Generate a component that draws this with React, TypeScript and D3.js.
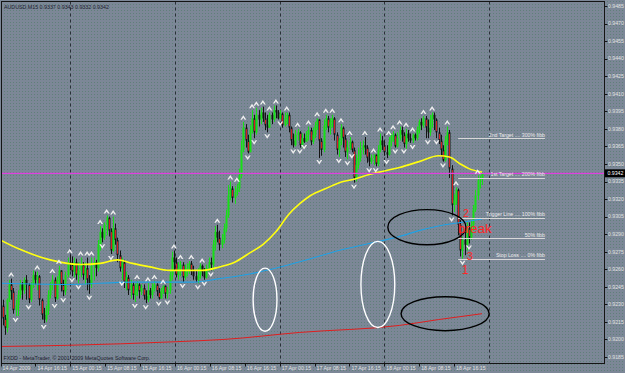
import React from "react";
import * as d3 from "d3";

// ---- price data (pips, i.e. price * 10000), 30-minute bars ----
const FIRST_OPEN = 9229;
const CLOSES = [
  9218, 9210, 9234, 9247, 9241, 9225, 9229, 9238, 9247, 9242,
  9251, 9247, 9234, 9247, 9255, 9251, 9254, 9234, 9221, 9217,
  9225, 9238, 9247, 9251, 9235, 9251, 9259, 9247, 9241, 9255,
  9266, 9264, 9258, 9266, 9255, 9259, 9264, 9255, 9261, 9251,
  9247, 9263, 9266, 9261, 9281, 9292, 9287, 9298, 9304, 9293,
  9276, 9295, 9285, 9272, 9261, 9266, 9249, 9253, 9242, 9247,
  9238, 9242, 9247, 9241, 9244, 9237, 9234, 9242, 9238, 9244,
  9247, 9241, 9235, 9242, 9246, 9239, 9242, 9255, 9270, 9266,
  9255, 9261, 9264, 9253, 9258, 9261, 9265, 9259, 9254, 9251,
  9255, 9263, 9258, 9253, 9261, 9266, 9264, 9281, 9292, 9287,
  9281, 9285, 9295, 9306, 9323, 9329, 9321, 9326, 9329, 9340,
  9362, 9381, 9370, 9360, 9379, 9389, 9377, 9392, 9388, 9394,
  9389, 9383, 9381, 9392, 9388, 9396, 9394, 9389, 9393, 9383,
  9389, 9392, 9381, 9370, 9366, 9375, 9377, 9366, 9372, 9369,
  9375, 9379, 9369, 9375, 9383, 9388, 9370, 9362, 9383, 9389,
  9381, 9386, 9389, 9375, 9362, 9370, 9381, 9372, 9360, 9364,
  9369, 9362, 9338, 9349, 9355, 9362, 9366, 9364, 9355, 9352,
  9355, 9358, 9350, 9362, 9370, 9366, 9360, 9358, 9369, 9374,
  9375, 9365, 9372, 9379, 9375, 9367, 9376, 9372, 9370, 9375,
  9372, 9379, 9386, 9383, 9389, 9381, 9377, 9388, 9392, 9388,
  9377, 9370, 9362, 9353, 9370, 9377, 9346, 9315, 9319, 9328,
  9298, 9276, 9285, 9281, 9295, 9287, 9298, 9311, 9323, 9336,
  9337, 9342,
];
const HIGHS = [
  9234, 9221, 9235, 9251, 9252, 9244, 9234, 9242, 9251, 9249,
  9253, 9255, 9248, 9249, 9259, 9258, 9258, 9255, 9235, 9227,
  9229, 9242, 9249, 9255, 9253, 9254, 9263, 9259, 9251, 9258,
  9270, 9272, 9271, 9270, 9269, 9266, 9270, 9266, 9266, 9270,
  9255, 9270, 9270, 9268, 9285, 9297, 9295, 9300, 9306, 9305,
  9295, 9305, 9299, 9287, 9276, 9270, 9268, 9258, 9255, 9251,
  9249, 9248, 9250, 9248, 9247, 9247, 9242, 9248, 9244, 9248,
  9250, 9248, 9244, 9244, 9246, 9246, 9245, 9258, 9275, 9276,
  9270, 9266, 9267, 9266, 9264, 9265, 9267, 9267, 9263, 9259,
  9261, 9265, 9264, 9261, 9264, 9270, 9270, 9285, 9297, 9298,
  9293, 9290, 9299, 9311, 9332, 9335, 9331, 9331, 9333, 9346,
  9370, 9386, 9384, 9375, 9383, 9396, 9392, 9398, 9396, 9398,
  9399, 9394, 9392, 9394, 9394, 9400, 9400, 9396, 9396, 9394,
  9394, 9394, 9394, 9382, 9376, 9379, 9380, 9378, 9376, 9376,
  9378, 9382, 9381, 9381, 9386, 9389, 9388, 9372, 9388, 9392,
  9391, 9389, 9392, 9390, 9377, 9372, 9384, 9382, 9375, 9370,
  9373, 9370, 9364, 9358, 9364, 9369, 9370, 9373, 9366, 9360,
  9358, 9358, 9357, 9366, 9376, 9374, 9370, 9366, 9373, 9376,
  9378, 9376, 9377, 9382, 9382, 9377, 9380, 9379, 9376, 9376,
  9376, 9382, 9388, 9389, 9391, 9391, 9388, 9392, 9394, 9394,
  9389, 9381, 9375, 9366, 9374, 9382, 9379, 9349, 9324, 9330,
  9329, 9302, 9288, 9292, 9300, 9300, 9302, 9315, 9328, 9340,
  9340, 9343,
];
const LOWS = [
  9212, 9204, 9206, 9232, 9234, 9222, 9220, 9220, 9235, 9234,
  9239, 9234, 9231, 9232, 9244, 9247, 9242, 9229, 9217, 9214,
  9215, 9221, 9235, 9242, 9232, 9234, 9247, 9241, 9237, 9238,
  9253, 9259, 9254, 9253, 9251, 9248, 9253, 9251, 9247, 9242,
  9239, 9244, 9251, 9254, 9258, 9276, 9283, 9285, 9289, 9288,
  9273, 9275, 9281, 9266, 9258, 9251, 9244, 9242, 9238, 9235,
  9234, 9232, 9237, 9235, 9238, 9234, 9231, 9232, 9235, 9235,
  9241, 9237, 9234, 9235, 9239, 9235, 9235, 9239, 9251, 9259,
  9253, 9251, 9254, 9249, 9251, 9254, 9256, 9255, 9251, 9249,
  9248, 9252, 9254, 9251, 9252, 9258, 9259, 9259, 9276, 9283,
  9276, 9278, 9282, 9292, 9304, 9319, 9317, 9316, 9323, 9326,
  9338, 9360, 9364, 9359, 9362, 9376, 9372, 9375, 9382, 9384,
  9386, 9379, 9377, 9381, 9384, 9386, 9389, 9388, 9388, 9381,
  9382, 9384, 9377, 9366, 9364, 9365, 9370, 9364, 9364, 9368,
  9369, 9370, 9366, 9367, 9372, 9379, 9355, 9357, 9360, 9379,
  9377, 9375, 9381, 9370, 9358, 9356, 9366, 9364, 9356, 9354,
  9362, 9360, 9334, 9335, 9346, 9352, 9358, 9358, 9351, 9348,
  9350, 9349, 9348, 9348, 9360, 9362, 9357, 9355, 9357, 9365,
  9369, 9364, 9364, 9370, 9369, 9364, 9363, 9369, 9368, 9368,
  9370, 9370, 9376, 9379, 9381, 9372, 9372, 9374, 9381, 9379,
  9372, 9367, 9357, 9352, 9352, 9366, 9338, 9306, 9309, 9315,
  9289, 9271, 9269, 9272, 9276, 9282, 9285, 9293, 9309, 9319,
  9329, 9332,
];

// Fractal bars (bar indices)
const UP_FRACTALS = [4, 16, 23, 26, 31, 36, 39, 41, 45, 48, 51, 62, 67, 70, 74, 79, 82, 87, 92, 99, 105, 108, 111, 115, 117, 120, 123, 126, 131, 136, 141, 145, 149, 152, 156, 160, 167, 171, 174, 178, 180, 183, 186, 189, 194, 198, 205, 209, 219];
const DOWN_FRACTALS = [6, 12, 19, 24, 28, 32, 35, 40, 46, 50, 55, 61, 66, 72, 76, 83, 90, 93, 96, 113, 116, 122, 128, 134, 137, 139, 146, 155, 159, 161, 162, 169, 172, 177, 181, 185, 189, 196, 200, 203, 207, 212, 215];

// Moving averages: [bar index, pips]
const MA_YELLOW: [number, number][] = [
  [-1, 9285], [8, 9277], [22, 9268], [36, 9264], [45, 9265], [53, 9268], [60, 9265], [68, 9262],
  [77, 9259], [92, 9259], [100, 9262], [107, 9266], [114, 9274], [120, 9281], [126, 9292],
  [132, 9307], [137, 9316], [142, 9323], [149, 9329], [157, 9335], [162, 9337], [169, 9341],
  [176, 9344], [183, 9347], [192, 9352], [201, 9357], [206, 9356], [211, 9350], [215, 9346], [221, 9343],
];
const MA_CYAN: [number, number][] = [
  [-1, 9248], [30, 9247], [60, 9249], [88, 9249], [100, 9252], [114, 9256], [128, 9262],
  [142, 9269], [155, 9276], [169, 9282], [183, 9288], [192, 9293], [201, 9297], [211, 9300], [221, 9303],
];
const MA_RED: [number, number][] = [
  [-1, 9194], [30, 9195], [79, 9198], [102, 9200], [137, 9206], [183, 9212], [201, 9217], [221, 9222],
];

const CURRENT_PRICE = 9342;

const FIB_VALUES = [9372, 9338, 9304, 9286.5, 9269];
const FIB_LABELS = [
  "2nd Target .... 300% fibb",
  "1st Target .... 200% fibb",
  "Trigger Line .... 100% fibb",
  "50% fibb",
  "Stop Loss .... 0% fibb",
];
const FIB_FROM = 210;
const FIB_TO = 250;

const PRICE_TICKS = [9185, 9200, 9215, 9230, 9245, 9260, 9275, 9290, 9305, 9320, 9335, 9350, 9365, 9380, 9395, 9410, 9425, 9440, 9455, 9470, 9485];

const TIME_LABELS = [
  "14 Apr 2009", "14 Apr 16:15", "15 Apr 00:15", "15 Apr 08:15", "15 Apr 16:15",
  "16 Apr 00:15", "16 Apr 08:15", "16 Apr 16:15", "17 Apr 00:15", "17 Apr 08:15",
  "17 Apr 16:15", "18 Apr 00:15", "18 Apr 08:15", "18 Apr 16:15",
];
const TIME_LABEL_HOURS = [0, 8, 16, 24, 32, 40, 48, 56, 64, 72, 80, 88, 96, 104];
const GRID_HOURS = [16, 40, 64, 88, 112];

// annotations in data units
const ELLIPSES = [
  { i: 121, p: 9234, ri: 5.5, rp: 27, color: "#ffffff" },
  { i: 173, p: 9247, ri: 7.8, rp: 36.8, color: "#ffffff" },
  { i: 195.6, p: 9296, ri: 18, rp: 15, color: "#000000" },
  { i: 204, p: 9222, ri: 20.3, rp: 14.5, color: "#000000" },
];
const NOTES = [
  { text: "2", i: 212.2, p: 9304.7, size: 10.5 },
  { text: "break", i: 209.9, p: 9291, size: 13.5 },
  { text: "3", i: 214, p: 9268, size: 11 },
  { text: "1", i: 211.7, p: 9256, size: 12 },
];

const TITLE = "AUDUSD,M15  0.9337 0.9343 0.9332 0.9342";
const COPYRIGHT = "FXDD - MetaTrader, \u00a9 2001-2009 MetaQuotes Software Corp.";

const W = 625;
const H = 373;
const FRAME = { left: 1.5, top: 1.5, right: 604.5, bottom: 363.5 };
const FONT = "'Liberation Sans', Arial, sans-serif";
const BG = "#7c8797";

export default function App() {
  const x = d3.scaleLinear().domain([0, 221]).range([2.5, 482]);
  const y = d3.scaleLinear().domain([9185, 9485]).range([357, 6]);
  const tx = d3.scaleLinear().domain([0, 112]).range([0.5, 489]);
  const fmt = (p: number) => (p / 10000).toFixed(4);
  const crisp = (v: number) => Math.round(v) + 0.5;

  const bars = CLOSES.map((c, i) => {
    const o = i === 0 ? FIRST_OPEN : CLOSES[i - 1];
    const h = Math.max(HIGHS[i], o, c);
    const l = Math.min(LOWS[i], o, c);
    return { i, o, h, l, c, up: c >= o };
  });

  const line = d3
    .line<[number, number]>()
    .x((d) => x(d[0]))
    .y((d) => y(d[1]))
    .curve(d3.curveMonotoneX);

  const upArrow = "M-3,2 L0,-2.5 L3,2 L1.4,2 L0,0 L-1.4,2 Z";
  const downArrow = "M-3,-2 L0,2.5 L3,-2 L1.4,-2 L0,0 L-1.4,-2 Z";

  return (
    <svg
      width={W}
      height={H}
      style={{ position: "absolute", left: 0, top: 0, display: "block" }}
      fontFamily={FONT}
    >
      <defs>
        <pattern id="dots" width="3" height="3" patternUnits="userSpaceOnUse">
          <rect width="3" height="3" fill={BG} />
          <rect x="1" y="1" width="1" height="1" fill="#5f8079" />
        </pattern>
        <clipPath id="plot">
          <rect x={FRAME.left} y={FRAME.top} width={FRAME.right - FRAME.left} height={FRAME.bottom - FRAME.top} />
        </clipPath>
      </defs>
      <rect width={W} height={H} fill="url(#dots)" />

      {/* grid */}
      {GRID_HOURS.map((h) => (
        <line
          key={"g" + h}
          x1={crisp(tx(h))}
          x2={crisp(tx(h))}
          y1={FRAME.top}
          y2={FRAME.bottom}
          stroke="#2a2f38"
          strokeDasharray="3,3"
          strokeWidth={1}
        />
      ))}

      <g clipPath="url(#plot)">
        {/* candles */}
        {bars.map((b) => {
          const cx = crisp(x(b.i));
          const yo = y(b.o);
          const yc = y(b.c);
          const top = Math.min(yo, yc);
          const hgt = Math.max(1, Math.abs(yo - yc));
          const col = b.up ? "#16e016" : "#141414";
          return (
            <g key={"b" + b.i}>
              <line x1={cx} x2={cx} y1={y(b.h)} y2={y(b.l)} stroke={col} strokeWidth={1} />
              <rect x={cx - 1} y={top} width={2} height={hgt} fill={col} />
              {!b.up && hgt > 6 ? (
                <line x1={cx} x2={cx} y1={top + 1.5} y2={top + hgt - 1.5} stroke="#d42020" strokeWidth={1} />
              ) : null}
            </g>
          );
        })}

        {/* moving averages */}
        <path d={line(MA_RED) || ""} fill="none" stroke="#e01e1e" strokeWidth={1} />
        <path d={line(MA_CYAN) || ""} fill="none" stroke="#1ea2e6" strokeWidth={1.1} />
        <path d={line(MA_YELLOW) || ""} fill="none" stroke="#ffff10" strokeWidth={1.6} />

        {/* current price line */}
        <line
          x1={FRAME.left}
          x2={FRAME.right}
          y1={y(CURRENT_PRICE)}
          y2={y(CURRENT_PRICE)}
          stroke="#e040e0"
          strokeWidth={1.3}
        />

        {/* fractals */}
        {UP_FRACTALS.map((i) => (
          <path key={"u" + i} d={upArrow} transform={`translate(${x(i)},${y(bars[i].h) - 4})`} fill="#eeeeee" />
        ))}
        {DOWN_FRACTALS.map((i) => (
          <path key={"d" + i} d={downArrow} transform={`translate(${x(i)},${y(bars[i].l) + 4})`} fill="#eeeeee" />
        ))}

        {/* fibonacci levels */}
        {FIB_VALUES.map((v, k) => (
          <g key={"f" + k}>
            <line x1={x(FIB_FROM)} x2={x(FIB_TO)} y1={crisp(y(v))} y2={crisp(y(v))} stroke="#d8d8d8" strokeWidth={1} />
            <text x={x(FIB_TO)} y={y(v) - 1.5} fontSize={5.2} fill="#ececec" textAnchor="end">
              {FIB_LABELS[k]}
            </text>
          </g>
        ))}

        {/* ellipses */}
        {ELLIPSES.map((e, k) => (
          <ellipse
            key={"e" + k}
            cx={x(e.i)}
            cy={y(e.p)}
            rx={x(e.i + e.ri) - x(e.i)}
            ry={y(e.p) - y(e.p + e.rp)}
            fill="none"
            stroke={e.color}
            strokeWidth={1.4}
          />
        ))}

        {/* notes */}
        {NOTES.map((n, k) => (
          <text key={"n" + k} x={x(n.i)} y={y(n.p)} fontSize={n.size} fill="#ff2626">
            {n.text}
          </text>
        ))}

        <text x={4} y={9} fontSize={5.3} fill="#1c2030">
          {TITLE}
        </text>
        <text x={3.5} y={360} fontSize={5.3} fill="#1c2030">
          {COPYRIGHT}
        </text>
      </g>

      {/* frame */}
      <rect
        x={FRAME.left}
        y={FRAME.top}
        width={FRAME.right - FRAME.left}
        height={FRAME.bottom - FRAME.top}
        fill="none"
        stroke="#141414"
        strokeWidth={1}
      />

      {/* price axis */}
      {PRICE_TICKS.map((p) => (
        <g key={"p" + p}>
          <line x1={FRAME.right} x2={FRAME.right + 3} y1={crisp(y(p))} y2={crisp(y(p))} stroke="#141414" />
          <text x={608} y={y(p) + 1.8} fontSize={5.2} fill="#e4e4e4">
            {fmt(p)}
          </text>
        </g>
      ))}
      <rect x={605} y={y(CURRENT_PRICE) - 4} width={20} height={8} fill="#000" />
      <text x={607.5} y={y(CURRENT_PRICE) + 1.9} fontSize={5.2} fill="#ffffff">
        {fmt(CURRENT_PRICE)}
      </text>

      {/* time axis */}
      {TIME_LABEL_HOURS.map((h, k) => (
        <g key={"t" + h}>
          <line x1={crisp(tx(h))} x2={crisp(tx(h))} y1={FRAME.bottom} y2={FRAME.bottom + 3} stroke="#141414" />
          <text x={tx(h) + 2} y={370} fontSize={5.2} fill="#e4e4e4">
            {TIME_LABELS[k]}
          </text>
        </g>
      ))}
    </svg>
  );
}
